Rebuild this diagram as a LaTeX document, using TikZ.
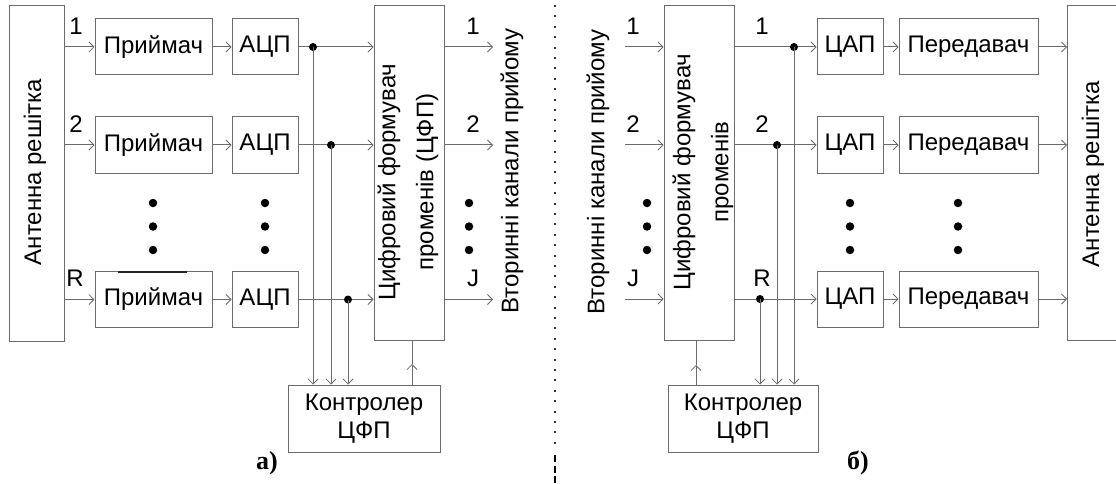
\documentclass[tikz,border=0pt]{standalone}
\usepackage{fontspec}
\setmainfont{Liberation Sans}
\newfontfamily\serifbold{Liberation Serif}
\usetikzlibrary{arrows.meta}
\definecolor{ln}{gray}{0.42}
\begin{document}
\begin{tikzpicture}[x=1pt,y=-1pt,
  box/.style={draw=ln, line width=1pt, inner sep=0pt, align=center, font=\fontsize{24}{28}\selectfont},
  wire/.style={draw=ln, line width=1pt},
  arr/.style={wire, -{Straight Barb[length=5pt,width=10pt,line width=0.8pt]}},
  lab/.style={font=\fontsize{24}{26}\selectfont, inner sep=0pt, anchor=base},
  vtxt/.style={rotate=90, inner sep=0pt, align=center, font=\fontsize{24}{38}\selectfont},
  jd/.style={circle, fill=black, inner sep=0pt, minimum size=8pt},
  ed/.style={circle, fill=black, inner sep=0pt, minimum size=8.5pt},
  pcaption/.style={font=\serifbold\bfseries\fontsize{26}{28}\selectfont, inner sep=0pt, anchor=base}
]
\useasboundingbox (0,0) rectangle (1116,484);

% ---------------- panel a ----------------
\node[box, minimum width=55pt, minimum height=335pt] (antL) at (36.5,173.5) {};
\node[vtxt] (antLt) at (35,172) {Антенна решітка};

\node[box, minimum width=117pt, minimum height=56pt] (pr1) at (153.5,47) {Приймач};
\node[box, minimum width=117pt, minimum height=56pt] (pr2) at (153.5,145) {Приймач};
\node[box, minimum width=117pt, minimum height=56pt] (prR) at (153.5,299.5) {Приймач};
\draw[line width=2pt, black!85] (118,271.5) -- (187,271.5);

\node[box, minimum width=66pt, minimum height=56pt] (ad1) at (265,47) {АЦП};
\node[box, minimum width=66pt, minimum height=56pt] (ad2) at (265,145) {АЦП};
\node[box, minimum width=66pt, minimum height=56pt] (adR) at (265,299.5) {АЦП};

\node[box, minimum width=70pt, minimum height=334pt] (cfpL) at (409,173) {};
\node[vtxt] (cfpLt) at (408,182) {Цифровий формувач\\променів (ЦФП)};

\node[box, minimum width=152pt, minimum height=67pt] (ctlL) at (364,418.5) {Контролер\\ЦФП};

\foreach \r in {1,2,R}{
  \draw[arr] (antL.east |- pr\r.west) -- (pr\r.west);
  \draw[arr] (pr\r.east) -- (ad\r.west);
  \draw[arr] (ad\r.east) -- (ad\r.east -| cfpL.west);
}
\coordinate (jL1) at (313,47);
\coordinate (jL2) at (331,145);
\coordinate (jLR) at (348,299.5);
\foreach \j in {jL1,jL2,jLR}{
  \node[jd] at (\j) {};
  \draw[arr] (\j) -- (\j |- ctlL.north);
}
\coordinate (mL) at (412,364);
\draw[arr] (mL |- ctlL.north) -- (mL);
\draw[wire] (mL) -- (mL |- cfpL.south);

\coordinate (oL1) at (493,47);
\coordinate (oL2) at (493,145);
\coordinate (oLR) at (493,299.5);
\foreach \o in {oL1,oL2,oLR}{
  \draw[arr] (cfpL.east |- \o) -- (\o);
}

\node[lab] at (76,35) {1};
\node[lab] at (76,133) {2};
\node[lab] at (75,286) {R};
\node[lab] at (473,35) {1};
\node[lab] at (473,133) {2};
\node[lab] at (473,286) {J};

\foreach \x in {153,265,469}{
  \foreach \y in {203,226.5,250}{
    \node[ed] at (\x,\y) {};
  }
}
\node[vtxt] (secL) at (512,171) {Вторинні канали прийому};
\node[pcaption] (capA) at (267,469) {а)};

% ---------------- separator ----------------
\draw[line width=1.8pt, black!80, dash pattern=on 2pt off 8.4pt] (555,5) -- (555,452);
\draw[line width=1.8pt, black, dash pattern=on 7pt off 3.5pt] (555,455) -- (555,484);

% ---------------- panel b ----------------
\node[vtxt] (secR) at (598,172) {Вторинні канали прийому};

\node[box, minimum width=70pt, minimum height=334pt] (cfpR) at (699,173) {};
\node[vtxt] (cfpRt) at (703,172) {Цифровий формувач\\променів};

\node[box, minimum width=66pt, minimum height=56pt] (da1) at (850,47) {ЦАП};
\node[box, minimum width=66pt, minimum height=56pt] (da2) at (850,145) {ЦАП};
\node[box, minimum width=66pt, minimum height=56pt] (daR) at (850,299) {ЦАП};

\node[box, minimum width=139pt, minimum height=56pt] (tx1) at (968.5,47) {Передавач};
\node[box, minimum width=139pt, minimum height=56pt] (tx2) at (968.5,145) {Передавач};
\node[box, minimum width=139pt, minimum height=56pt] (txR) at (968.5,299) {Передавач};

\coordinate (antRnw) at (1067,6);
\coordinate (antRsw) at (1067,340);
\draw[wire] (1120,6) -- (antRnw) -- (antRsw) -- (1120,340);
\node[vtxt] (antRt) at (1093,174) {Антенна решітка};

\node[box, minimum width=150pt, minimum height=67pt] (ctlR) at (743,418.5) {Контролер\\ЦФП};

\coordinate (iR1) at (625,47);
\coordinate (iR2) at (625,145);
\coordinate (iRR) at (625,299);
\foreach \i in {iR1,iR2,iRR}{
  \draw[arr] (\i) -- (\i -| cfpR.west);
}
\foreach \r in {1,2,R}{
  \draw[arr] (cfpR.east |- da\r.west) -- (da\r.west);
  \draw[arr] (da\r.east) -- (tx\r.west);
  \draw[arr] (tx\r.east) -- (tx\r.east -| antRnw);
}
\coordinate (jR1) at (794,47);
\coordinate (jR2) at (777,145);
\coordinate (jRR) at (760,299);
\foreach \j in {jR1,jR2,jRR}{
  \node[jd] at (\j) {};
  \draw[arr] (\j) -- (\j |- ctlR.north);
}
\coordinate (mR) at (696,365);
\draw[arr] (mR |- ctlR.north) -- (mR);
\draw[wire] (mR) -- (mR |- cfpR.south);

\node[lab] at (633,35) {1};
\node[lab] at (633,133) {2};
\node[lab] at (633,286) {J};
\node[lab] at (762,35) {1};
\node[lab] at (762,133) {2};
\node[lab] at (762,286) {R};

\foreach \x in {647,850,958}{
  \foreach \y in {203,226.5,250}{
    \node[ed] at (\x,\y) {};
  }
}
\node[pcaption] (capB) at (858,469) {б)};
\end{tikzpicture}
\end{document}
